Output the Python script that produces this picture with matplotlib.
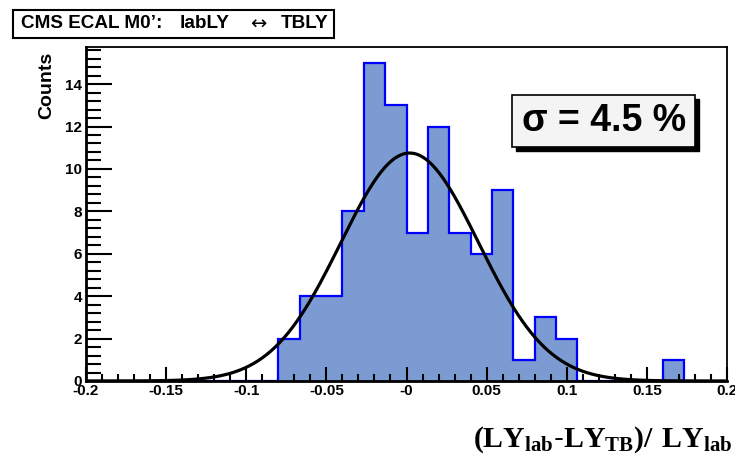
import numpy as np
import matplotlib
matplotlib.use("Agg")
import matplotlib.pyplot as plt
from matplotlib.ticker import FixedLocator, MultipleLocator
from matplotlib.patches import Rectangle

plt.rcParams['font.family'] = ['Liberation Sans', 'DejaVu Sans']
plt.rcParams['mathtext.fontset'] = 'custom'
plt.rcParams['mathtext.bf'] = 'Liberation Serif:bold'
plt.rcParams['mathtext.rm'] = 'Liberation Serif:bold'

# histogram: 30 bins from -0.2 to 0.2
bin_lo = -0.2
bin_hi = 0.2
n_bins = 30
counts = [0, 0, 0, 0, 0, 0, 0, 0, 0,
          2, 4, 4, 8, 15, 13, 7, 12, 7, 6, 9, 1, 3, 2,
          0, 0, 0, 0, 1, 0, 0]

# gaussian fit
fit_const = 10.75
fit_mean = 0.002
fit_sigma = 0.043

x_ticks = [-0.2, -0.15, -0.1, -0.05, 0.0, 0.05, 0.1, 0.15, 0.2]
x_labels = ['-0.2', '-0.15', '-0.1', '-0.05', '-0', '0.05', '0.1', '0.15', '0.2']
y_ticks = [0, 2, 4, 6, 8, 10, 12, 14]

fig = plt.figure(figsize=(7.35, 4.58), dpi=100)
ax = fig.add_axes([86/735., 1 - 381/458., (727 - 86)/735., (381 - 47)/458.])

edges = np.linspace(bin_lo, bin_hi, n_bins + 1)
ax.stairs(counts, edges, fill=True, color='#7b9bd2', zorder=1)
ax.stairs(counts, edges, baseline=0, fill=False, color='#0000ff', lw=1.6, zorder=2)

xs = np.linspace(bin_lo, bin_hi, 600)
ax.plot(xs, fit_const * np.exp(-0.5 * ((xs - fit_mean) / fit_sigma) ** 2),
        color='black', lw=2.3, zorder=3)

ax.set_xlim(bin_lo, bin_hi)
ax.set_ylim(0, 15.75)

ax.xaxis.set_major_locator(FixedLocator(x_ticks))
ax.set_xticklabels(x_labels)
ax.xaxis.set_minor_locator(MultipleLocator(0.01))
ax.yaxis.set_major_locator(FixedLocator(y_ticks))
ax.yaxis.set_minor_locator(MultipleLocator(0.4))

ax.tick_params(which='both', direction='in', top=False, right=False,
               width=1.5, labelsize=11)
ax.tick_params(axis='x', which='major', length=10, pad=2)
ax.tick_params(axis='x', which='minor', length=5)
ax.tick_params(axis='y', which='major', length=19, pad=3)
ax.tick_params(axis='y', which='minor', length=11)
for lab in ax.get_xticklabels() + ax.get_yticklabels():
    lab.set_fontweight('bold')

for side in ['top', 'right']:
    ax.spines[side].set_linewidth(1.3)
for side in ['bottom', 'left']:
    ax.spines[side].set_linewidth(2)

ax.set_ylabel('Counts', fontsize=14, fontweight='bold', loc='top')
ax.yaxis.set_label_coords(-31/641., 1 - 5/334.)

# title box
fig.patches.append(Rectangle((13/735., 1 - 38/458.), (334 - 13)/735., (38 - 10)/458.,
                             transform=fig.transFigure, fc='white', ec='black', lw=1.5))
ty = 1 - 24/458.
fig.text(21/735., ty, 'CMS ECAL M0\u2019:', fontsize=13.6, fontweight='bold', ha='left', va='center')
fig.text(180/735., ty, 'labLY', fontsize=13.6, fontweight='bold', ha='left', va='center')
fig.text(258/735., ty, '\u2194', fontsize=14, family=['DejaVu Sans'], ha='center', va='center')
fig.text(328/735., ty, 'TBLY', fontsize=13.6, fontweight='bold', ha='right', va='center')

# sigma box with shadow
fig.patches.append(Rectangle((516/735., 1 - 151/458.), (695 - 512)/735., (147 - 95)/458.,
                             transform=fig.transFigure, fc='black', ec='black', zorder=5))
fig.patches.append(Rectangle((512/735., 1 - 147/458.), (695 - 512)/735., (147 - 95)/458.,
                             transform=fig.transFigure, fc='#f4f4f4', ec='black', lw=1.2, zorder=6))
fig.text(604/735., 1 - 121/458., '\u03c3 = 4.5 %', fontsize=27, fontweight='bold',
         ha='center', va='center', zorder=7)

# x title, clipped at right edge as in the original
fig.text(473/735., 1 - 447/458., r'$\mathbf{(LY_{lab}}$-$\mathbf{LY_{TB})/\ LY_{lab}}$',
         fontsize=21.5, ha='left', va='baseline')

fig.savefig('out.png', dpi=100)
